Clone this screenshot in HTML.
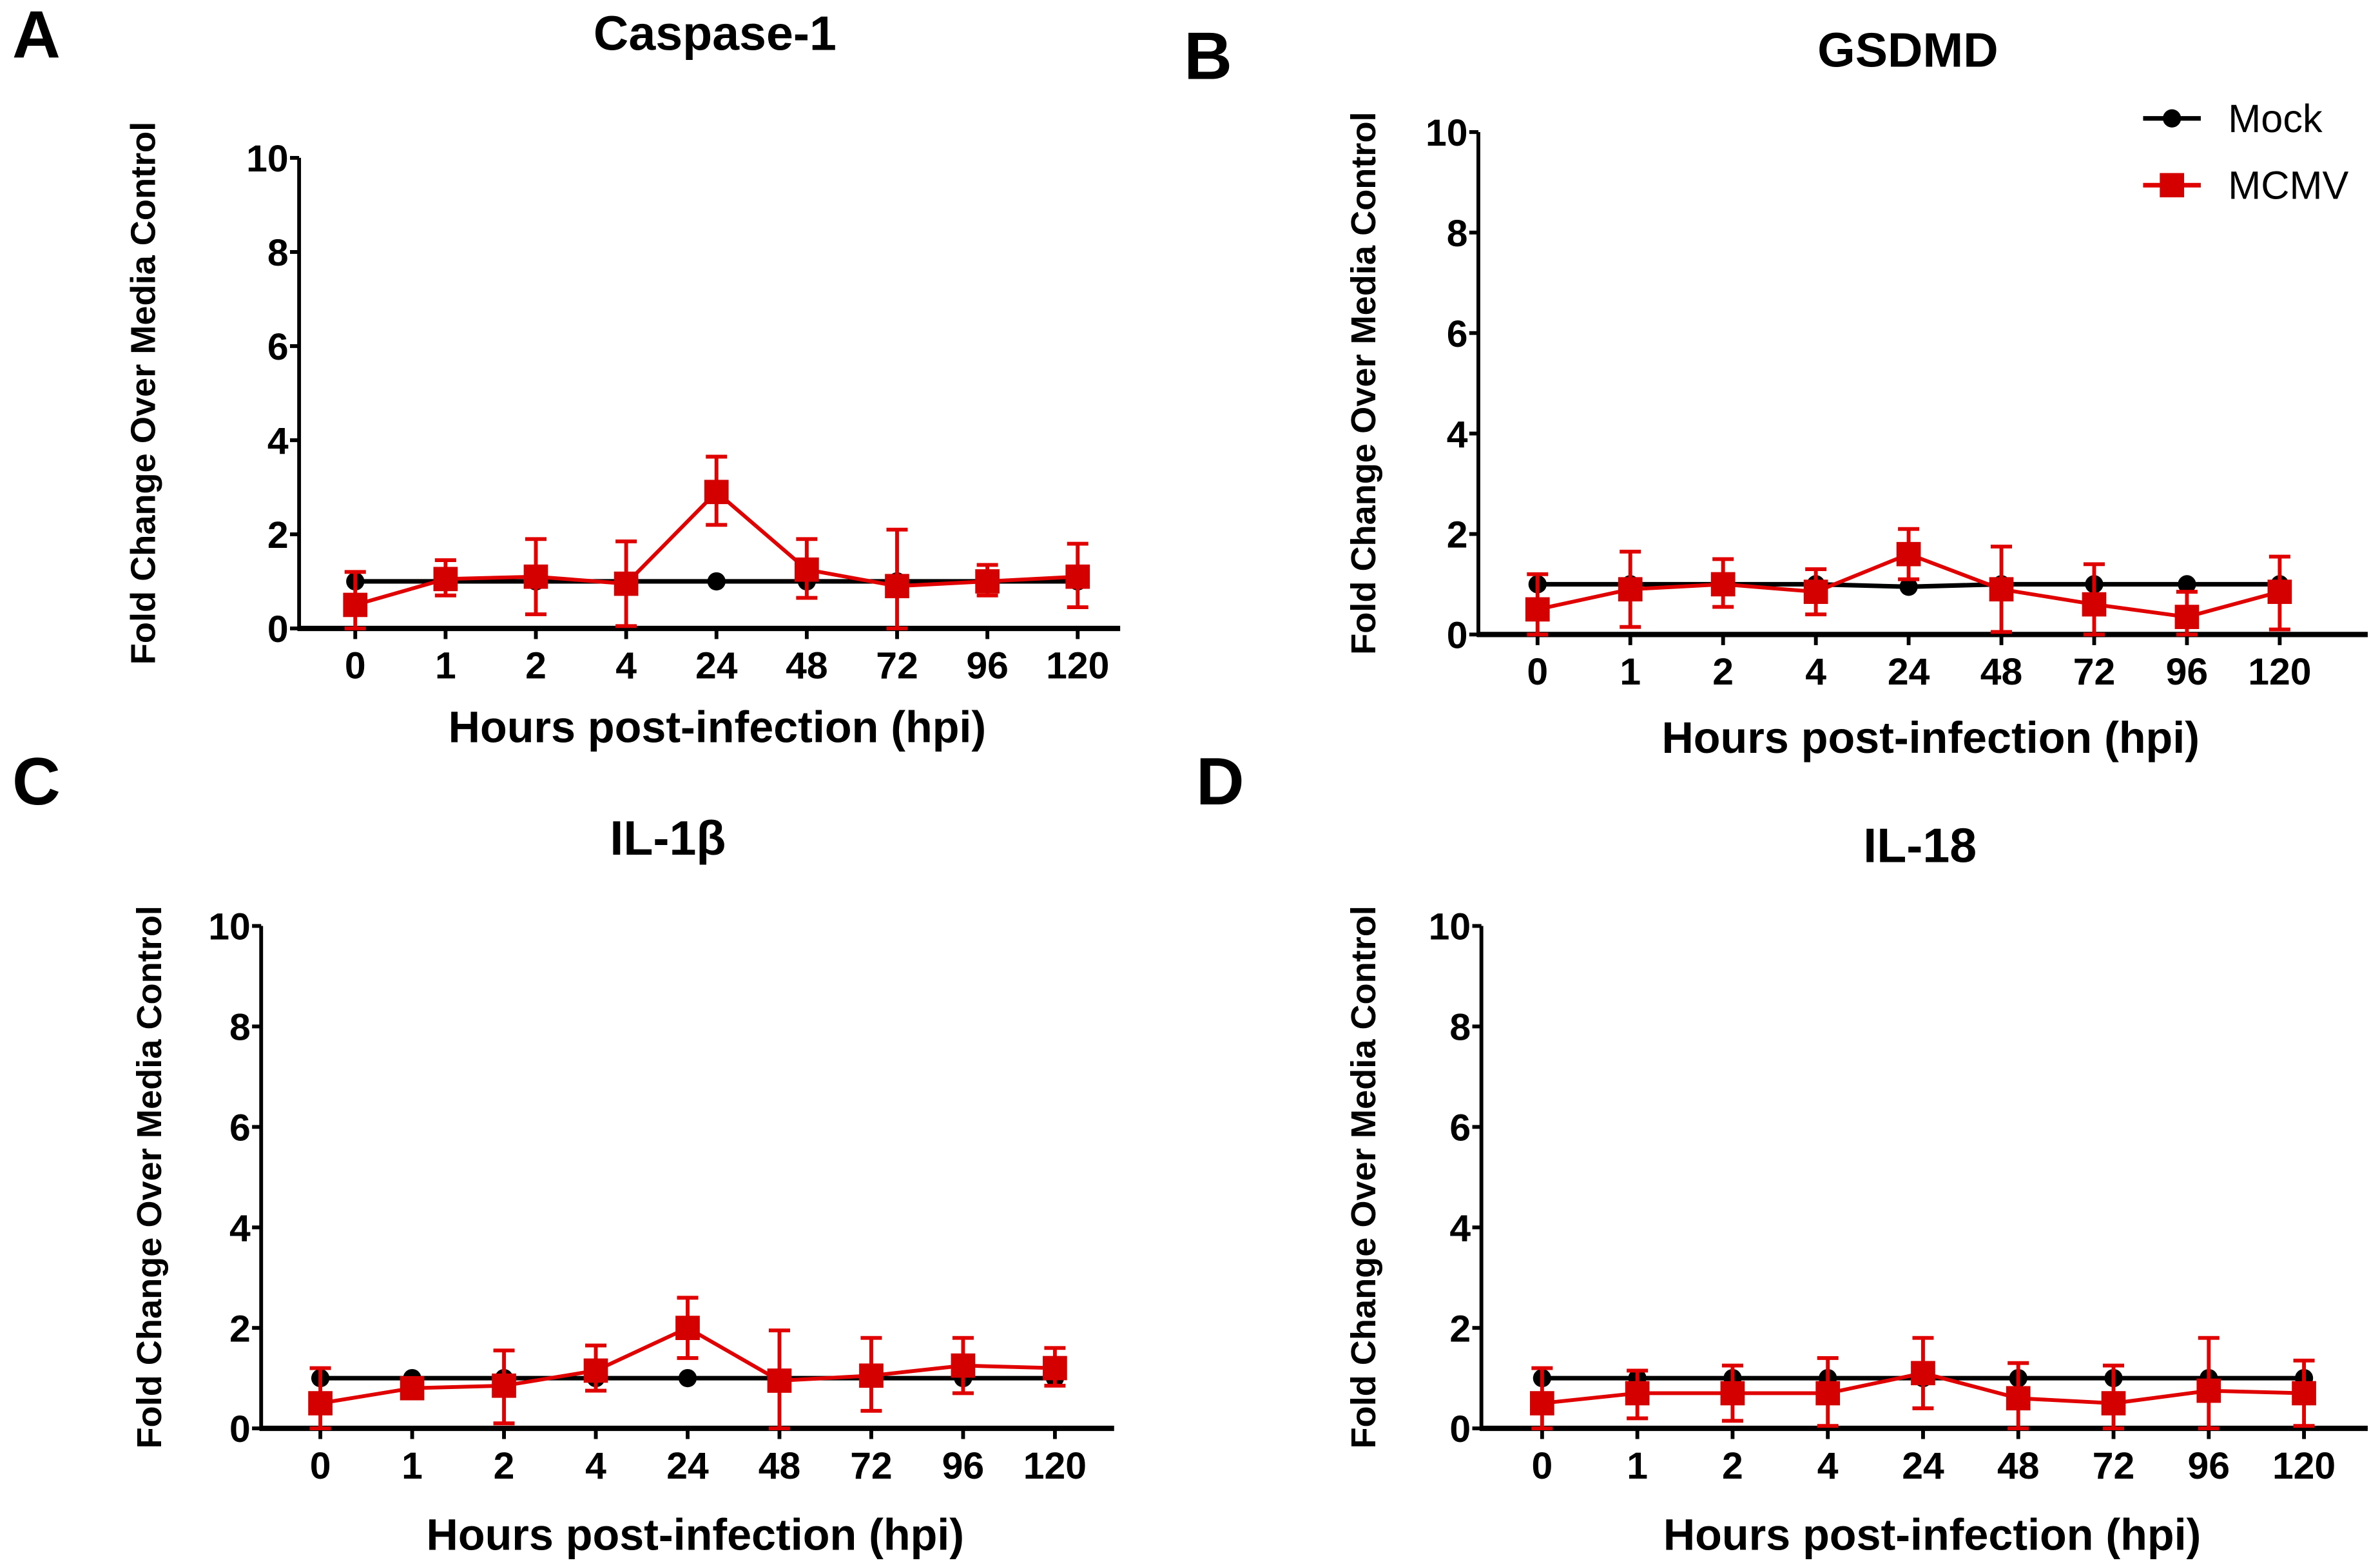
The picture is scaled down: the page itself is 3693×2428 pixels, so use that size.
<!DOCTYPE html>
<html><head><meta charset="utf-8"><style>
html,body{margin:0;padding:0;background:#fff}
svg{display:block}
text{font-family:"Liberation Sans",sans-serif;font-weight:bold}
</style></head><body>
<svg id="fig" width="3693" height="2428" viewBox="0 0 1568 1031" xmlns="http://www.w3.org/2000/svg"></svg>
<script>
const categories = ["0","1","2","4","24","48","72","96","120"];
const yTicks = [0,2,4,6,8,10];
const mockA = [1,1,1,1,1,1,1,1,1];
const mcmvA = [0.5,1.05,1.1,0.95,2.9,1.25,0.9,1.0,1.1];
const mcmvALo = [0,0.7,0.3,0.05,2.2,0.65,0,0.7,0.45];
const mcmvAHi = [1.2,1.45,1.9,1.85,3.65,1.9,2.1,1.35,1.8];
const mockB = [1,1,1,1,0.95,1,1,1,1];
const mcmvB = [0.5,0.9,1.0,0.85,1.6,0.9,0.6,0.35,0.85];
const mcmvBLo = [0,0.15,0.55,0.4,1.1,0.05,0,0,0.1];
const mcmvBHi = [1.2,1.65,1.5,1.3,2.1,1.75,1.4,0.85,1.55];
const mockC = [1,1,1,1,1,1,1,1,1];
const mcmvC = [0.5,0.8,0.85,1.15,2.0,0.95,1.05,1.25,1.2];
const mcmvCLo = [0,0.75,0.1,0.75,1.4,0,0.35,0.7,0.85];
const mcmvCHi = [1.2,0.85,1.55,1.65,2.6,1.95,1.8,1.8,1.6];
const mockD = [1,1,1,1,1,1,1,1,1];
const mcmvD = [0.5,0.7,0.7,0.7,1.1,0.6,0.5,0.75,0.7];
const mcmvDLo = [0,0.2,0.15,0.05,0.4,0,0,0,0.05];
const mcmvDHi = [1.2,1.15,1.25,1.4,1.8,1.3,1.25,1.8,1.35];

const svg = document.getElementById('fig');
const NS = "http://www.w3.org/2000/svg";
function mk(tag, attrs, parent){const e=document.createElementNS(NS,tag);for(const k in attrs)e.setAttribute(k,attrs[k]);(parent||svg).appendChild(e);return e;}
function txt(s, attrs, parent){const e=mk('text',attrs,parent);e.textContent=s;return e;}

const panels = [
 {id:'a',letter:'A',lx:8,ly:38,title:'Caspase-1',tx:471,ty:33,ax:197,x0:234,x8:710,xend:738,ytop:104,ybot:414,mock:mockA,m:mcmvA,lo:mcmvALo,hi:mcmvAHi,ytx:102,xty:489},
 {id:'b',letter:'B',lx:780,ly:52,title:'GSDMD',tx:1257,ty:44,ax:974,x0:1013,x8:1502,xend:1560,ytop:87,ybot:418,mock:mockB,m:mcmvB,lo:mcmvBLo,hi:mcmvBHi,ytx:906,xty:496,legend:true},
 {id:'c',letter:'C',lx:8,ly:530,title:'IL-1\u03b2',tx:440,ty:563,ax:172,x0:211,x8:695,xend:734,ytop:610,ybot:941,mock:mockC,m:mcmvC,lo:mcmvCLo,hi:mcmvCHi,ytx:106,xty:1021},
 {id:'d',letter:'D',lx:788,ly:530,title:'IL-18',tx:1265,ty:568,ax:976,x0:1016,x8:1518,xend:1560,ytop:610,ybot:941,mock:mockD,m:mcmvD,lo:mcmvDLo,hi:mcmvDHi,ytx:906,xty:1021}
];

panels.forEach(p=>{
  const g = mk('g',{});
  
  
  const xs = i => p.x0 + (p.x8-p.x0)*i/(categories.length-1);
  const ys = v => p.ybot - (p.ybot-p.ytop)*v/10;
  const L = txt(p.letter,{x:p.lx,y:p.ly,'font-size':44},g);
  
  
  const T = txt(p.title,{x:p.tx,y:p.ty,'font-size':32,'text-anchor':'middle'},g);
  
  
  const ya = mk('line',{x1:p.ax,y1:p.ytop,x2:p.ax,y2:p.ybot+1.5,stroke:'#000','stroke-width':2.5},g);
  
  
  const xa = mk('line',{x1:p.ax-1,y1:p.ybot,x2:p.xend,y2:p.ybot,stroke:'#000','stroke-width':3.5},g);
  
  
  yTicks.forEach(v=>{
    mk('line',{x1:p.ax-6,y1:ys(v),x2:p.ax,y2:ys(v),stroke:'#000','stroke-width':2.5},g);
    const t = txt(String(v),{x:p.ax-7,y:ys(v)+9,'font-size':25,'text-anchor':'end'},g);
    
    
  });
  categories.forEach((c,i)=>{
    mk('line',{x1:xs(i),y1:p.ybot,x2:xs(i),y2:p.ybot+7,stroke:'#000','stroke-width':2.5},g);
    const t = txt(c,{x:xs(i),y:p.ybot+33,'font-size':25,'text-anchor':'middle'},g);
    
    
  });
  const xt = txt('Hours post-infection (hpi)',{x:(p.ax+p.xend)/2+5,y:p.xty,'font-size':29,'text-anchor':'middle'},g);
  
  
  const cy = (p.ytop+p.ybot)/2;
  const yt = txt('Fold Change Over Media Control',{x:0,y:0,'font-size':23,'text-anchor':'middle',transform:`translate(${p.ytx},${cy}) rotate(-90)`},g);
  
  
  const mp = mk('polyline',{points:p.mock.map((v,i)=>xs(i)+','+ys(v)).join(' '),fill:'none',stroke:'#000','stroke-width':3},g);
  
  
  p.mock.forEach((v,i)=>{
    const c = mk('circle',{cx:xs(i),cy:ys(v),r:6,fill:'#000'},g);
    
    
  });
  p.m.forEach((v,i)=>{
    const x=xs(i), y1=ys(p.lo[i]), y2=ys(p.hi[i]);
    const eb = mk('path',{d:`M${x},${y1}V${y2}M${x-7},${y2}H${x+7}M${x-7},${y1}H${x+7}`,stroke:'#e00000','stroke-width':2.5,fill:'none'},g);
    
    
  });
  const rp = mk('polyline',{points:p.m.map((v,i)=>xs(i)+','+ys(v)).join(' '),fill:'none',stroke:'#e00000','stroke-width':2.5},g);
  
  
  p.m.forEach((v,i)=>{
    const r = mk('rect',{x:xs(i)-8,y:ys(v)-8,width:16,height:16,fill:'#d40000'},g);
    
    
  });
  if(p.legend){
    const lg = mk('g',{},g);
    
    
    const e1 = mk('g',{},lg);
    
    
    mk('line',{x1:1412,y1:78,x2:1450,y2:78,stroke:'#000','stroke-width':3},e1);
    mk('circle',{cx:1431,cy:78,r:6,fill:'#000'},e1);
    txt('Mock',{x:1468,y:87,'font-size':26,style:'font-weight:normal'},e1);
    const e2 = mk('g',{},lg);
    
    
    mk('line',{x1:1412,y1:122,x2:1450,y2:122,stroke:'#e00000','stroke-width':3},e2);
    mk('rect',{x:1423,y:114,width:16,height:16,fill:'#d40000'},e2);
    txt('MCMV',{x:1468,y:131,'font-size':26,style:'font-weight:normal'},e2);
  }
});
</script>
</body></html>
